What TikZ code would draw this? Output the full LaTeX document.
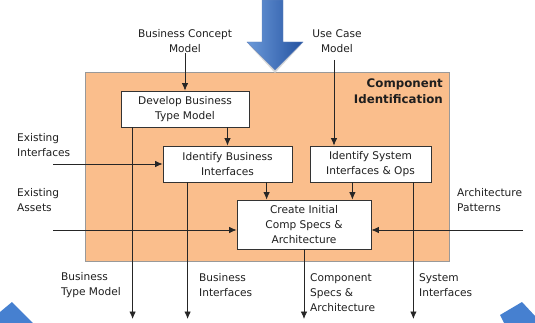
\documentclass[tikz,border=0pt]{standalone}
\usepackage{fontspec}
\setmainfont{DejaVu Sans}
\usetikzlibrary{arrows.meta,positioning,shadings}
\definecolor{boxorange}{RGB}{250,190,140}
\definecolor{arrowblue}{RGB}{70,128,208}
\definecolor{arrowdark}{RGB}{36,82,160}
\definecolor{inkgray}{RGB}{30,30,30}
\tikzset{
  txt/.style={font=\fontsize{10.6}{15}\selectfont, text=inkgray, inner sep=0pt},
  task/.style={txt, rectangle, draw=black!80, fill=white, align=center, thick},
  flowlabel/.style={txt, align=left, anchor=west},
  connect/.style={-{Latex[length=7.5pt,width=6.5pt]}, thick, draw=black!85}
}

\begin{document}
\begin{tikzpicture}[x=1pt,y=-1pt]
  \useasboundingbox (0,0) rectangle (535,323);
  \fill[boxorange, draw=black!40] (85,72) rectangle (449,261);
  \fill[black!15] (249,45) -- (275,73) -- (301,45) -- (275,68) -- cycle;
  \shade[left color=arrowblue!80, right color=arrowdark, draw=arrowdark!70]
    (262,0) -- (283,0) -- (283,42) -- (303,42) -- (275,70) -- (247,42) -- (262,42) -- cycle;
  \fill[arrowblue] (0,312) -- (12,302) -- (33,323) -- (0,323) -- cycle;
  \fill[arrowblue] (500,315) -- (522,302) -- (535,316) -- (535,323) -- (504,323) -- cycle;

  \node[txt, align=right, anchor=north east, font=\fontsize{11.8}{16}\selectfont\bfseries] (title) at (443,79) {Component\\Identification};

  \node[task, minimum width=128, minimum height=36] (dev) at (185,109) {Develop Business\\Type Model};
  \node[task, minimum width=129, minimum height=36] (ibi) at (227.5,164) {Identify Business\\Interfaces};
  \node[task, minimum width=121, minimum height=36] (sys) at (370.5,164) {Identify System\\Interfaces \& Ops};
  \node[task, minimum width=134, minimum height=49] (create) at (304,224.5) {Create Initial\\Comp Specs \&\\Architecture};

  \node[txt, align=center] (bcm) at (185,41.5) {Business Concept\\Model};
  \node[txt, align=center] (ucm) at (337,41.5) {Use Case\\Model};
  \node[flowlabel] (exint) at (17,145.5) {Existing\\Interfaces};
  \node[flowlabel] (exast) at (17,200.5) {Existing\\Assets};
  \node[flowlabel] (archp) at (457,200.5) {Architecture\\Patterns};
  \node[flowlabel] (btm) at (61,285.5) {Business\\Type Model};
  \node[flowlabel] (bif) at (199,285.5) {Business\\Interfaces};
  \node[flowlabel] (csa) at (310,292.5) {Component\\Specs \&\\Architecture};
  \node[flowlabel] (sif) at (419,285.5) {System\\Interfaces};

  \coordinate (inl) at (53,0);
  \coordinate (inr) at (523,0);
  \coordinate (bot) at (0,319);
  \coordinate (ucmline) at (334,60);
  \coordinate (inA) at ([xshift=30]create.north west);
  \coordinate (inB) at ([xshift=-19]create.north east);
  \coordinate (mid) at ([yshift=-5.5]create.west);
  \coordinate (midr) at ([yshift=-5.5]create.east);
  \coordinate (outA) at ([xshift=12]dev.south west);
  \coordinate (outB) at ([xshift=25]ibi.south west);
  \coordinate (outD) at ([xshift=-18]sys.south east);

  \draw[connect] (bcm.south) -- (dev.north);
  \draw[connect] (ucmline) -- (ucmline |- sys.north);
  \draw[connect] (ibi.north |- dev.south) -- (ibi.north);
  \draw[connect] (inA |- ibi.south) -- (inA);
  \draw[connect] (inB |- sys.south) -- (inB);
  \draw[connect] (inl |- ibi.west) -- (ibi.west);
  \draw[connect] (inl |- mid) -- (mid);
  \draw[connect] (inr |- midr) -- (midr);
  \draw[connect] (outA) -- (outA |- bot);
  \draw[connect] (outB) -- (outB |- bot);
  \draw[connect] (create.south) -- (create.south |- bot);
  \draw[connect] (outD) -- (outD |- bot);

\end{tikzpicture}
\end{document}
